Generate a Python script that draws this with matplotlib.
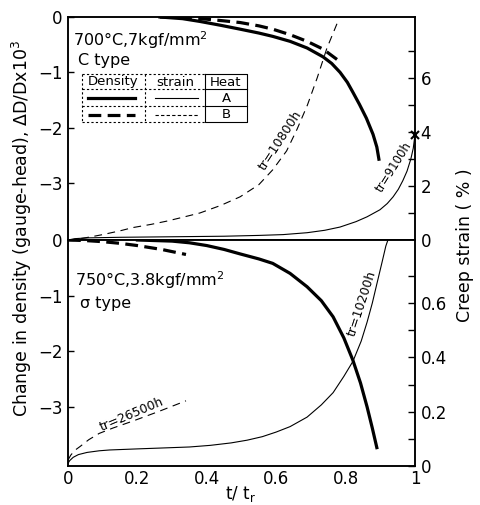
"""Density change and creep strain vs. life fraction, two test conditions."""
import matplotlib
matplotlib.use("Agg")
import matplotlib.pyplot as plt
from matplotlib.lines import Line2D

plt.rcParams["font.family"] = ["DejaVu Sans"]
plt.rcParams["lines.solid_joinstyle"] = "round"
plt.rcParams["lines.dash_joinstyle"] = "round"

# upper panel: 700C, 7 kgf/mm2, C type
up_dens_a_t = [0.265, 0.33, 0.38, 0.44, 0.496, 0.55, 0.59, 0.64, 0.689, 0.735, 0.76,
               0.784, 0.805, 0.821, 0.84, 0.86, 0.879, 0.89, 0.896]
up_dens_a = [0.0, -0.03, -0.08, -0.15, -0.22, -0.29, -0.35, -0.44, -0.56, -0.72, -0.84,
             -1.0, -1.18, -1.36, -1.58, -1.83, -2.12, -2.35, -2.57]
up_dens_b_t = [0.265, 0.33, 0.4, 0.45, 0.496, 0.55, 0.59, 0.64, 0.689, 0.735, 0.778]
up_dens_b = [0.0, -0.01, -0.04, -0.07, -0.1, -0.16, -0.22, -0.32, -0.44, -0.58, -0.78]
up_str_a_t = [0.0, 0.02, 0.06, 0.15, 0.3, 0.45, 0.55, 0.62, 0.689, 0.74, 0.784, 0.83,
              0.862, 0.899, 0.92, 0.937, 0.952, 0.965, 0.977, 0.988, 0.995, 1.0]
up_str_a = [0.0, 0.05, 0.08, 0.1, 0.12, 0.14, 0.17, 0.2, 0.27, 0.36, 0.48, 0.68,
            0.86, 1.12, 1.35, 1.6, 1.88, 2.2, 2.55, 3.0, 3.4, 3.9]
up_str_b_t = [0.0, 0.03, 0.063, 0.1, 0.15, 0.187, 0.24, 0.285, 0.33, 0.38, 0.44, 0.496,
              0.55, 0.59, 0.63, 0.66, 0.69, 0.718, 0.746, 0.778]
up_str_b = [0.0, 0.04, 0.11, 0.2, 0.34, 0.46, 0.58, 0.7, 0.84, 1.0, 1.28, 1.6,
            2.05, 2.6, 3.3, 4.1, 5.0, 6.0, 7.1, 8.1]

# lower panel: 750C, 3.8 kgf/mm2, sigma type
lo_dens_a_t = [0.2, 0.3, 0.35, 0.4, 0.45, 0.496, 0.55, 0.59, 0.64, 0.689, 0.73, 0.764,
               0.795, 0.821, 0.843, 0.862, 0.877, 0.89]
lo_dens_a = [0.0, -0.02, -0.05, -0.1, -0.17, -0.25, -0.34, -0.42, -0.6, -0.84, -1.09, -1.38,
             -1.76, -2.16, -2.57, -3.0, -3.38, -3.73]
lo_dens_b_t = [0.0, 0.05, 0.1, 0.15, 0.2, 0.27, 0.34]
lo_dens_b = [0.0, -0.01, -0.03, -0.06, -0.1, -0.17, -0.26]
lo_str_a_t = [0.0, 0.005, 0.015, 0.03, 0.055, 0.09, 0.12, 0.2, 0.265, 0.35, 0.41, 0.47,
              0.516, 0.56, 0.6, 0.64, 0.689, 0.73, 0.764, 0.795, 0.821, 0.845, 0.862,
              0.877, 0.89, 0.905, 0.916, 0.922]
lo_str_a = [0.01, 0.02, 0.032, 0.042, 0.05, 0.056, 0.059, 0.063, 0.066, 0.07, 0.076, 0.085,
            0.095, 0.108, 0.125, 0.145, 0.18, 0.225, 0.27, 0.33, 0.385, 0.46, 0.53,
            0.6, 0.67, 0.75, 0.81, 0.832]
lo_str_b_t = [0.0, 0.008, 0.02, 0.035, 0.06, 0.09, 0.13, 0.186, 0.26, 0.34]
lo_str_b = [0.022, 0.04, 0.058, 0.072, 0.097, 0.12, 0.14, 0.165, 0.2, 0.24]

x_ticks = [0, 0.2, 0.4, 0.6, 0.8, 1]
x_labels = ["0", "0.2", "0.4", "0.6", "0.8", "1"]
dens_ticks = [0, -1, -2, -3]
up_str_ticks = [0, 2, 4, 6]
lo_str_ticks = [0, 0.2, 0.4, 0.6]

THICK = 2.3
THIN = 0.8
THICK_DASH = (4, 2)
THIN_DASH = (7, 5)


def style_axis(ax, ax2):
    ax.set_xlim(0, 1)
    for a in (ax, ax2):
        for sp in a.spines.values():
            sp.set_linewidth(1.1)
    ax.tick_params(axis="y", direction="in", length=4, width=1, labelsize=12, pad=4)
    ax2.tick_params(axis="y", which="both", direction="in", length=5, width=1, labelsize=12, pad=4)
    ax.set_yticks(dens_ticks)
    ax.set_yticklabels(["0", "\u22121", "\u22122", "\u22123"])


fig = plt.figure(figsize=(4.8, 5.05), dpi=100)
left, right = 68 / 480, 415 / 480
top, mid, bottom = 1 - 17 / 505, 1 - 240 / 505, 1 - 466 / 505

ax_up = fig.add_axes([left, mid, right - left, top - mid])
ax_up2 = ax_up.twinx()
ax_lo = fig.add_axes([left, bottom, right - left, mid - bottom])
ax_lo2 = ax_lo.twinx()

# upper panel
ax_up.plot(up_dens_a_t, up_dens_a, color="black", lw=THICK)
ax_up.plot(up_dens_b_t, up_dens_b, color="black", lw=THICK, dashes=THICK_DASH)
ax_up2.plot(up_str_a_t, up_str_a, color="black", lw=THIN)
ax_up2.plot(up_str_b_t, up_str_b, color="black", lw=THIN, dashes=THIN_DASH)
ax_up2.plot([up_str_a_t[-1]], [up_str_a[-1]], marker="x", color="black", ms=6, mew=1.5, clip_on=False)

ax_up.set_ylim(-4.03, 0)
ax_up2.set_ylim(0, 8.26)
ax_up2.set_yticks(up_str_ticks)
ax_up2.set_yticks([1, 3, 5, 7], minor=True)
style_axis(ax_up, ax_up2)
ax_up.set_xticks([])

ax_up.text(0.014, 0.897, "700\u00b0C,7kgf/mm$^2$", transform=ax_up.transAxes, fontsize=11.5, va="center")
ax_up.text(0.03, 0.807, "C type", transform=ax_up.transAxes, fontsize=11.5, va="center")
ax_up2.text(0.611, 3.7, "tr=10800h", rotation=57, fontsize=9, ha="center", va="center")
ax_up2.text(0.94, 2.7, "tr=9100h", rotation=58, fontsize=8.5, ha="center", va="center")


# legend table drawn in pixel positions of the reference
def fx(px):
    return (px - 68) / 347


def fy(py):
    return (240 - py) / 223


tbl = dict(transform=ax_up.transAxes, color="black", lw=0.8, clip_on=False)
dot = dict(tbl, ls=(0, (2, 2)))
for py in [74, 89, 106, 122]:
    ax_up.add_line(Line2D([fx(82), fx(205)], [fy(py), fy(py)], **dot))
ax_up.add_line(Line2D([fx(82), fx(82)], [fy(74), fy(122)], **dot))
ax_up.add_line(Line2D([fx(145), fx(145)], [fy(74), fy(122)], **dot))
ax_up.add_line(Line2D([fx(205), fx(247), fx(247), fx(205), fx(205)],
                      [fy(74), fy(74), fy(122), fy(122), fy(74)], **tbl))
ax_up.add_line(Line2D([fx(205), fx(247)], [fy(89), fy(89)], **tbl))
ax_up.add_line(Line2D([fx(205), fx(247)], [fy(106), fy(106)], **tbl))
ax_up.add_line(Line2D([fx(88), fx(135)], [fy(98), fy(98)], transform=ax_up.transAxes,
                      color="black", lw=THICK))
ax_up.add_line(Line2D([fx(88), fx(135)], [fy(115), fy(115)], transform=ax_up.transAxes,
                      color="black", lw=THICK, dashes=THICK_DASH))
ax_up.add_line(Line2D([fx(155), fx(198)], [fy(98), fy(98)], transform=ax_up.transAxes,
                      color="black", lw=THIN))
ax_up.add_line(Line2D([fx(155), fx(198)], [fy(115), fy(115)], transform=ax_up.transAxes,
                      color="black", lw=THIN, dashes=(3, 2)))
for label, px in [("Density", 113), ("strain", 175), ("Heat", 226)]:
    ax_up.text(fx(px), fy(82), label, transform=ax_up.transAxes, fontsize=9.5,
               ha="center", va="center")
ax_up.text(fx(226), fy(98), "A", transform=ax_up.transAxes, fontsize=9.5, ha="center", va="center")
ax_up.text(fx(226), fy(114), "B", transform=ax_up.transAxes, fontsize=9.5, ha="center", va="center")

# lower panel
ax_lo.plot(lo_dens_a_t, lo_dens_a, color="black", lw=THICK)
ax_lo.plot(lo_dens_b_t, lo_dens_b, color="black", lw=THICK, dashes=THICK_DASH)
ax_lo2.plot(lo_str_a_t, lo_str_a, color="black", lw=THIN)
ax_lo2.plot(lo_str_b_t, lo_str_b, color="black", lw=THIN, dashes=THIN_DASH)

ax_lo.set_ylim(-4.06, 0)
ax_lo2.set_ylim(0, 0.832)
ax_lo2.set_yticks(lo_str_ticks)
ax_lo2.set_yticks([0.1, 0.3, 0.5, 0.7], minor=True)
style_axis(ax_lo, ax_lo2)
ax_lo2.set_yticklabels(["0", "0.2", "0.4", "0.6"])
ax_lo.set_xticks(x_ticks)
ax_lo.set_xticklabels(x_labels)
ax_lo.tick_params(axis="x", length=0, labelsize=12, pad=3)

ax_lo.text(0.02, 0.823, "750\u00b0C,3.8kgf/mm$^2$", transform=ax_lo.transAxes, fontsize=11.5, va="center")
ax_lo.text(0.035, 0.72, "\u03c3 type", transform=ax_lo.transAxes, fontsize=11.5, va="center")
ax_lo2.text(0.847, 0.6, "tr=10200h", rotation=72, fontsize=9, ha="center", va="center")
ax_lo2.text(0.184, 0.19, "tr=26500h", rotation=23, fontsize=9, ha="center", va="center")

fig.text(240 / 480, 1 - 494 / 505, "t/ t$_\\mathrm{r}$", fontsize=12, ha="center", va="center")
fig.text(22 / 480, 1 - 228 / 505, "Change in density (gauge-head), \u0394D/Dx10$^3$",
         rotation=90, fontsize=12.5, ha="center", va="center")
fig.text(465 / 480, 1 - 245 / 505, "Creep strain ( % )", rotation=90, fontsize=12.5,
         ha="center", va="center")

fig.savefig("out.png", dpi=100)
